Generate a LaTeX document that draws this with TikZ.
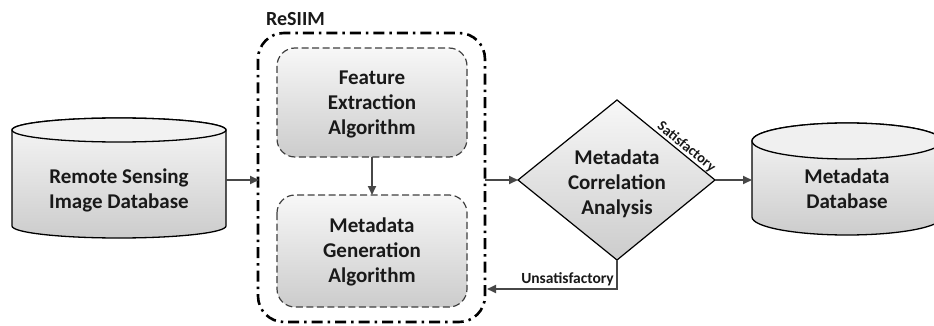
\documentclass[tikz,border=0pt]{standalone}
\usepackage{fontspec}
\setmainfont{Carlito}
\usetikzlibrary{arrows.meta}
\begin{document}
\begin{tikzpicture}[x=1pt,y=-1pt,
  lbl/.style={font=\fontsize{21}{25}\selectfont\bfseries, align=center, text=black!90, inner sep=0pt},
  small/.style={font=\fontsize{15.5}{18}\selectfont\bfseries, text=black!90, inner sep=1.5pt},
  conn/.style={draw=black!72, line width=2pt, -{Triangle[length=9pt,width=8pt]}},
  plainconn/.style={draw=black!72, line width=2pt},
  grad/.style={top color=gray!6, bottom color=gray!40},
  cylline/.style={draw=black, line width=1.3pt},
  innerbox/.style={draw=black!75, line width=1.2pt, dash pattern=on 7pt off 3.5pt, rounded corners=18pt, grad},
  outerbox/.style={draw=black, line width=2.6pt, dash pattern=on 11pt off 5pt on 2.5pt off 5pt, rounded corners=26pt}
]
\clip (0,0) rectangle (934,326);
\fill[white] (0,0) rectangle (934,326);

% left cylinder
\path[grad, cylline] (12,130) -- (12,226)
  arc[start angle=180, end angle=0, x radius=107, y radius=12]
  -- (226,130)
  arc[start angle=0, end angle=-180, x radius=107, y radius=12] -- cycle;
\path[cylline, fill=gray!10] (119,130) ellipse[x radius=107, y radius=12];
\node[lbl] (rsdb) at (119,190) {Remote Sensing\\Image Database};
\coordinate (rsdbE) at (226,180);

% right cylinder
\path[grad, cylline] (752,141) -- (752,217)
  arc[start angle=180, end angle=0, x radius=95, y radius=18]
  -- (942,141)
  arc[start angle=0, end angle=-180, x radius=95, y radius=18] -- cycle;
\path[cylline, fill=gray!12] (847,141) ellipse[x radius=95, y radius=18];
\node[lbl] (mdb) at (847,189) {Metadata\\Database};
\coordinate (mdbW) at (752,180);

% ReSIIM outer box
\draw[outerbox] (258,33) rectangle (485,322);
\node[font=\fontsize{20}{24}\selectfont\bfseries, text=black!90, anchor=west, inner sep=0pt] (resiim) at (266,19) {ReSIIM};
\coordinate (resW) at (259,180);
\coordinate (resE) at (485,180);
\coordinate (resR) at (487,290);

% inner boxes
\path[innerbox] (277,48) rectangle (467,157);
\node[lbl, text width=180pt] (fea) at (372,104) {Feature\\Extraction\\Algorithm};
\coordinate (feaS) at (372,157);
\path[innerbox] (277,195) rectangle (467,307);
\node[lbl, text width=180pt] (mga) at (372,252) {Metadata\\Generation\\Algorithm};
\coordinate (mgaN) at (372,195);

% diamond
\coordinate (dl) at (518,180);
\coordinate (dt) at (617,100);
\coordinate (dr) at (715,180);
\coordinate (db) at (617,260);
\path[grad, draw=black, line width=1.2pt, line join=miter] (dl) -- (dt) -- (dr) -- (db) -- cycle;
\node[lbl] (mca) at (617,184) {Metadata\\Correlation\\Analysis};
\path (dt) -- node[small, pos=0.66, sloped, above, inner sep=1pt, font=\fontsize{14.5}{17}\selectfont\bfseries] (sat) {Satisfactory} (dr);

% connectors
\draw[conn] (rsdbE) -- (resW);
\draw[conn] (feaS) -- (mgaN);
\draw[conn] (resE) -- (dl);
\draw[conn] (dr) -- (mdbW);
\draw[conn] (db) -- (617,289) -- (resR |- 0,289);
\node[small, anchor=south east, inner sep=0pt] (unsat) at (614,286) {Unsatisfactory};
\end{tikzpicture}
\end{document}
